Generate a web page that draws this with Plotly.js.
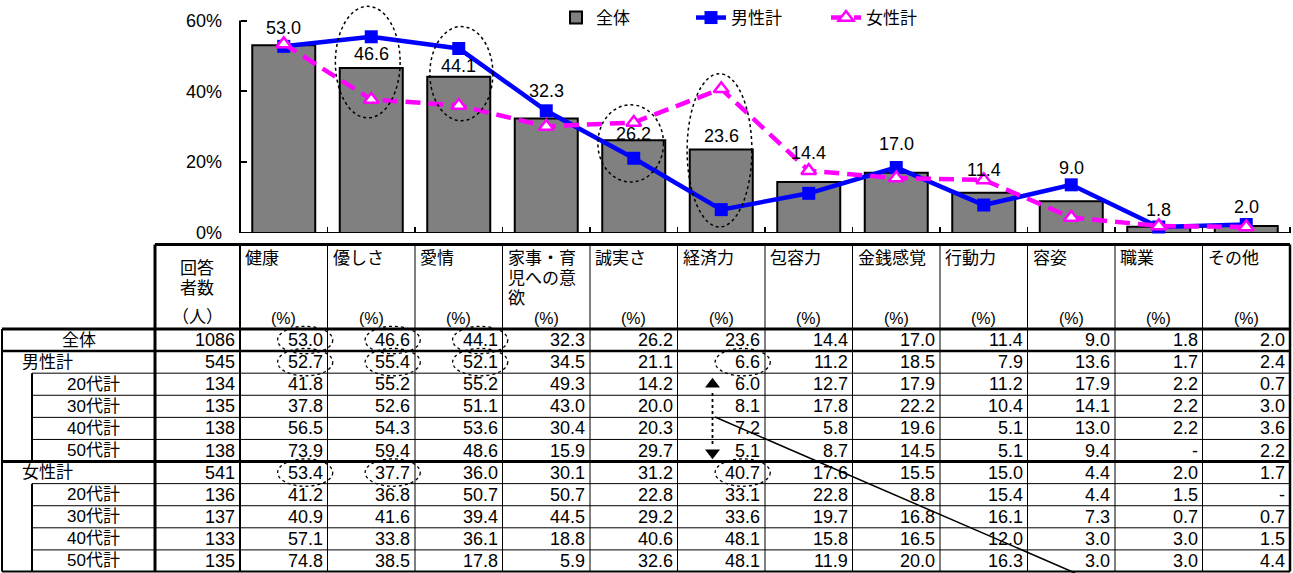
<!DOCTYPE html>
<html><head><meta charset="utf-8">
<script src="https://cdn.plot.ly/plotly-3.0.1.min.js"></script>
<style>html,body{margin:0;padding:0;background:#fff;overflow:hidden}#chart{width:1293px;height:573px}</style>
</head><body><div id="chart"></div>
<script>
// ---------- data ----------
const categories = ['健康','優しさ','愛情','家事・育児への意欲','誠実さ','経済力','包容力','金銭感覚','行動力','容姿','職業','その他'];
const headerLines = [['健康'],['優しさ'],['愛情'],['家事・育','児への意','欲'],['誠実さ'],['経済力'],['包容力'],['金銭感覚'],['行動力'],['容姿'],['職業'],['その他']];
const seriesNames = ['全体','男性計','女性計'];
const rowLabels = ['全体','男性計','20代計','30代計','40代計','50代計','女性計','20代計','30代計','40代計','50代計'];
const rowKinds  = ['total','group','sub','sub','sub','sub','group','sub','sub','sub','sub'];
const respondents = [1086,545,134,135,138,138,541,136,137,133,135];
const vAll      = [53.0,46.6,44.1,32.3,26.2,23.6,14.4,17.0,11.4,9.0,1.8,2.0];
const vMale     = [52.7,55.4,52.1,34.5,21.1,6.6,11.2,18.5,7.9,13.6,1.7,2.4];
const vMale20   = [41.8,55.2,55.2,49.3,14.2,6.0,12.7,17.9,11.2,17.9,2.2,0.7];
const vMale30   = [37.8,52.6,51.1,43.0,20.0,8.1,17.8,22.2,10.4,14.1,2.2,3.0];
const vMale40   = [56.5,54.3,53.6,30.4,20.3,7.2,5.8,19.6,5.1,13.0,2.2,3.6];
const vMale50   = [73.9,59.4,48.6,15.9,29.7,5.1,8.7,14.5,5.1,9.4,null,2.2];
const vFemale   = [53.4,37.7,36.0,30.1,31.2,40.7,17.6,15.5,15.0,4.4,2.0,1.7];
const vFemale20 = [41.2,36.8,50.7,50.7,22.8,33.1,22.8,8.8,15.4,4.4,1.5,null];
const vFemale30 = [40.9,41.6,39.4,44.5,29.2,33.6,19.7,16.8,16.1,7.3,0.7,0.7];
const vFemale40 = [57.1,33.8,36.1,18.8,40.6,48.1,15.8,16.5,12.0,3.0,3.0,1.5];
const vFemale50 = [74.8,38.5,17.8,5.9,32.6,48.1,11.9,20.0,16.3,3.0,3.0,4.4];
const yTicks = [0,20,40,60];
const yTickText = ['0%','20%','40%','60%'];
// highlighted cells [row, column] and highlighted chart categories
const tableHighlights = [[0,0],[0,1],[0,2],[1,0],[1,1],[1,2],[1,5],[6,0],[6,1],[6,5]];
const chartHighlightCats = [1,2,4,5];

const tableRows = [vAll,vMale,vMale20,vMale30,vMale40,vMale50,vFemale,vFemale20,vFemale30,vFemale40,vFemale50];

// ---------- layout geometry ----------
const W = 1293, H = 573;
const CAT_PX = 87.5, PLOT_LEFT = 240;
const X0 = -0.5 - PLOT_LEFT / CAT_PX;
const X1 = X0 + W / CAT_PX;
const colX = px => X0 + px / CAT_PX;
const AXIS_PX = 233, TOP60_PX = 20.5;
const yTop = 60 * AXIS_PX / (AXIS_PX - TOP60_PX);
const ROW_PX = 22.09, ROW0_PX = 329;
const rowY = py => -0.5 + (py - ROW0_PX) / ROW_PX;
const FONT = '"Liberation Sans", Arial, "Noto Sans CJK JP", sans-serif';
const idx = categories.map((_, i) => i);
// manual placement of the bar value labels (pixels above bar top, as in the original)
const LABEL_LIFT = [17.5,13.5,11,28,6,13,29,28.5,23,33,17,18.5];

// ---------- traces ----------
const traces = [
  {type:'bar', name:seriesNames[0], x:idx, y:vAll, width:0.72,
   marker:{color:'#808080', line:{color:'#000', width:2}}, cliponaxis:false, hoverinfo:'skip'},
  {type:'scatter', mode:'lines+markers', name:seriesNames[1], x:idx, y:vMale,
   line:{color:'#0000FF', width:4.5}, marker:{symbol:'square', size:13, color:'#0000FF'}, cliponaxis:false},
  {type:'scatter', mode:'lines+markers', name:seriesNames[2], x:idx, y:vFemale,
   line:{color:'#FF00FF', width:4.5, dash:'15px,8px'},
   marker:{symbol:'triangle-up', size:13, color:'#fff', line:{color:'#FF00FF', width:2.5}}, cliponaxis:false},
  {type:'scatter', mode:'markers', x:[4.9,4.9], y:[2.0,5.1], xaxis:'x', yaxis:'y2', showlegend:false,
   marker:{symbol:['triangle-up','triangle-down'], size:13, color:'#000'}, hoverinfo:'skip'}
];

// ---------- shapes ----------
const shapes = [];
const line = (x0,y0,x1,y1,w,yref,extra) => Object.assign({type:'line', xref:'x', yref:yref||'y2', x0,y0,x1,y1, line:{color:'#000', width:w}}, extra||{});
// chart axes
shapes.push(line(-0.5,0,-0.5,60,2,'y',{layer:'below'}));
shapes.push(line(-0.5,0,11.5,0,2,'y',{layer:'below'}));
// chart ellipses
const chartEll = {1:[-0.41,0.33,64.0,32.5],2:[-0.33,0.39,58.3,31.7],4:[-0.41,0.34,36.2,14.4],5:[-0.39,0.35,45.0,1.7]};
chartHighlightCats.forEach(c => {
  const e = chartEll[c];
  shapes.push({type:'circle', xref:'x', yref:'y', x0:c+e[0], x1:c+e[1], y0:e[3], y1:e[2], line:{color:'#000', width:1.5, dash:'dot'}});
});
// table grid
const xEdge = colX(2), xSub = colX(32), xCnt = colX(155), xEnd = 11.5;
const yHead = rowY(244.5), yBot = rowY(571.5);
shapes.push(line(xCnt,yHead,xEnd,yHead,3));
shapes.push(line(xEdge,-0.5,xEnd,-0.5,3));
shapes.push(line(xEdge,0.5,xEnd,0.5,2.5));
shapes.push(line(xEdge,5.5,xEnd,5.5,3));
shapes.push(line(xEdge,yBot,xEnd,yBot,2));
rowKinds.forEach((k,r) => {
  if (r < rowKinds.length-1 && rowKinds[r+1] === 'sub') shapes.push(line(xSub,r+0.5,xEnd,r+0.5,1));
});
shapes.push(line(xEdge,-0.5,xEdge,yBot,2));
shapes.push(line(xSub,1.5,xSub,5.5,2));
shapes.push(line(xSub,6.5,xSub,yBot,2));
shapes.push(line(xCnt,yHead,xCnt,yBot,3));
shapes.push(line(-0.5,yHead,-0.5,yBot,2));
for (let c = 0; c < categories.length-1; c++) shapes.push(line(c+0.5,yHead,c+0.5,yBot,1));
shapes.push(line(11.5,yHead,11.5,yBot,2.5));
// table ellipses
tableHighlights.forEach(([r,c]) => {
  shapes.push({type:'circle', xref:'x', yref:'y2', x0:c-0.07, x1:c+0.56, y0:r-0.62, y1:r+0.62, line:{color:'#000', width:1.3, dash:'dot'}});
});
// arrow stem and diagonal line
shapes.push(line(4.9,2.4,4.9,4.8,1.5,'y2',{line:{color:'#000', width:1.8, dash:'dot'}}));
shapes.push(line(colX(715),rowY(417),colX(1075),rowY(573),1.5));

// ---------- annotations ----------
const ann = [];
// bar value labels (through the chart's own axes)
vAll.forEach((v,i) => ann.push({text:v.toFixed(1), x:i, y:v, xref:'x', yref:'y', showarrow:false, yanchor:'middle', yshift:LABEL_LIFT[i],
  font:{size:18, color:'#000', family:FONT}}));
const txt = (text,x,y,opts) => Object.assign({text, x, y, xref:'x', yref:'y2', showarrow:false, font:{size:17, color:'#000', family:FONT}}, opts||{});
const numFont = {size:18, color:'#000', family:FONT};
headerLines.forEach((lines,c) => {
  lines.forEach((s,i) => ann.push(txt(s, c-0.5, rowY(258+20*i), {xanchor:'left', xshift:3})));
  ann.push(txt('(%)', c, rowY(318), {font:{size:16, color:'#000', family:FONT}}));
});
const cntC = colX(197);
ann.push(txt('回答', cntC, rowY(268)));
ann.push(txt('者数', cntC, rowY(288)));
ann.push(txt('（人）', cntC, rowY(317)));
rowLabels.forEach((s,r) => {
  const k = rowKinds[r];
  if (k === 'total') ann.push(txt(s, (xEdge+xCnt)/2, r));
  else if (k === 'group') ann.push(txt(s, colX(20), r, {xanchor:'left'}));
  else ann.push(txt(s, (xSub+xCnt)/2, r));
  ann.push(txt(String(respondents[r]), -0.5, r, {xanchor:'right', xshift:-3, font:numFont}));
  tableRows[r].forEach((v,c) => ann.push(txt(v === null ? '-' : v.toFixed(1), c+0.5, r, {xanchor:'right', xshift:-3, font:numFont})));
});

const layout = {
  width:W, height:H, margin:{l:0,r:0,t:0,b:0}, autosize:false,
  paper_bgcolor:'#fff', plot_bgcolor:'rgba(0,0,0,0)',
  font:{family:FONT, color:'#000', size:17},
  showlegend:true,
  legend:{orientation:'h', x:556/W, y:1, xanchor:'left', yanchor:'top', font:{size:17, family:FONT},
          entrywidth:90, entrywidthmode:'pixels', bgcolor:'rgba(0,0,0,0)', traceorder:'normal'},
  xaxis:{domain:[0,1], range:[X0,X1], anchor:'y', showline:false, showgrid:false, zeroline:false,
         tickmode:'array', tickvals:idx.concat([categories.length]).map(i=>i-0.5), showticklabels:false,
         ticks:'inside', ticklen:6, tickwidth:1.5, tickcolor:'#000', fixedrange:true},
  yaxis:{domain:[(H-AXIS_PX)/H,1], range:[0,yTop], anchor:'free', position:PLOT_LEFT/W, showline:false, showgrid:false, zeroline:false,
         tickmode:'array', tickvals:yTicks, ticktext:yTickText, ticks:'inside', ticklen:6, tickwidth:2, tickcolor:'#000',
         tickfont:{size:18, family:FONT, color:'#000'}, ticklabelstandoff:18, fixedrange:true},
  yaxis2:{domain:[0,1], range:[rowY(H), rowY(0)], anchor:'x', visible:false, fixedrange:true},
  shapes, annotations:ann
};
Plotly.newPlot('chart', traces, layout, {displayModeBar:false, staticPlot:true});
</script></body></html>
